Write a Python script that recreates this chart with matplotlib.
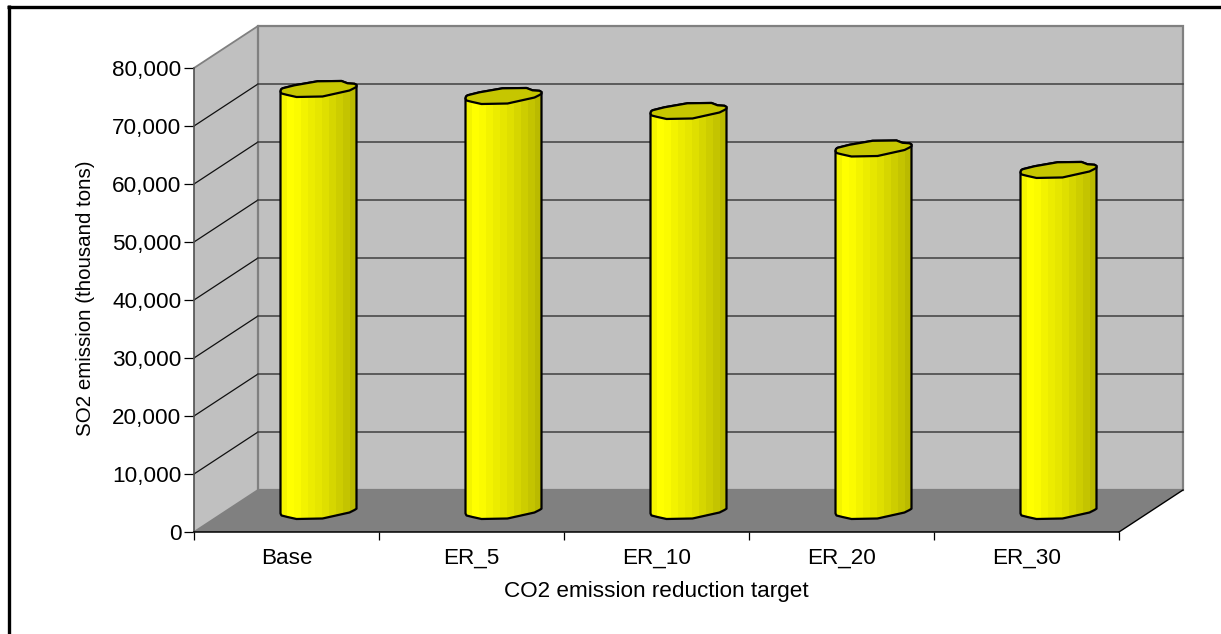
import matplotlib
matplotlib.use("Agg")
import matplotlib.pyplot as plt
import numpy as np
from matplotlib.lines import Line2D
from matplotlib.patches import Polygon
from matplotlib.ticker import FuncFormatter

plt.rcParams['font.family'] = ['Liberation Sans', 'DejaVu Sans']

categories = ["Base", "ER_5", "ER_10", "ER_20", "ER_30"]
so2_emission = [72760, 71550, 68970, 62500, 58800]
y_ticks = [0, 10000, 20000, 30000, 40000, 50000, 60000, 70000, 80000]
strip_colors = ["#f4f400", "#ffff00", "#fbfb00", "#f3f300", "#ecec00", "#e6e600",
                "#dfdf00", "#d6d600", "#cdcd00", "#c4c400", "#baba00"]

WIDTH, HEIGHT = 1221, 634
LEFT, RIGHT, BOTTOM, TOP = 194, 1119, 532, 68
PX_X = 5 / (RIGHT - LEFT)
PX_Y = 80000 / (BOTTOM - TOP)
DEPTH_X = 64 * PX_X
DEPTH_Y = 42 * PX_Y
GREY_WALL = "#c0c0c0"
GREY_FLOOR = "#808080"

# outline of a cylinder end, pixels from its centre (y up), clockwise from the left
RING_X = [-38, -37.5, -36, -24, -1, 23, 29, 36, 38, 38, 36, 31, 4, -22, -31, -37]
RING_Y = [-2.5, -0.5, 0.7, 3.7, 7.7, 8, 5.7, 5.2, 4, 2.3, 1, -1.5, -7.5, -8, -6, -4.5]
N_UPPER = 9


def ring(cx, cy):
    x = cx + np.array(RING_X) * PX_X
    y = cy + np.array(RING_Y) * PX_Y
    return np.column_stack([x, y])


def cylinder(ax, cx, value):
    y0 = DEPTH_Y / 2
    bottom = ring(cx, y0)
    top = ring(cx, y0 + value)
    points = np.vstack([top[:N_UPPER], bottom[N_UPPER:], bottom[:1]])
    shape = Polygon(points, closed=True, transform=ax.transData)
    half = 38 * PX_X
    edges = np.linspace(cx - half, cx + half, len(strip_colors) + 1)
    bars = ax.bar(edges[:-1], [value + 3 * DEPTH_Y] * len(strip_colors),
                  width=np.diff(edges) * 1.02, align="edge", color=strip_colors,
                  linewidth=0, zorder=5)
    for bar in bars:
        bar.set_clip_path(shape)
    ax.add_patch(Polygon(points, closed=True, facecolor="none", edgecolor="black",
                         linewidth=1.6, zorder=6, clip_on=False, joinstyle="round"))
    ax.add_patch(Polygon(top, closed=True, facecolor="#c6c600", edgecolor="black",
                         linewidth=1.6, zorder=7, clip_on=False, joinstyle="round"))


def main():
    fig = plt.figure(figsize=(WIDTH / 100, HEIGHT / 100), dpi=100, facecolor="white")
    ax = fig.add_axes([LEFT / WIDTH, 1 - BOTTOM / HEIGHT,
                       (RIGHT - LEFT) / WIDTH, (BOTTOM - TOP) / HEIGHT])
    ax.set_xlim(0, 5)
    ax.set_ylim(0, 80000)
    ax.patch.set_visible(False)
    for spine in ax.spines.values():
        spine.set_visible(False)

    # walls and floor
    ax.add_patch(Polygon([(0, 0), (DEPTH_X, DEPTH_Y), (DEPTH_X, 80000 + DEPTH_Y), (0, 80000)],
                         closed=True, facecolor=GREY_WALL, edgecolor="none", zorder=1, clip_on=False))
    ax.add_patch(Polygon([(DEPTH_X, DEPTH_Y), (5 + DEPTH_X, DEPTH_Y),
                          (5 + DEPTH_X, 80000 + DEPTH_Y), (DEPTH_X, 80000 + DEPTH_Y)],
                         closed=True, facecolor=GREY_WALL, edgecolor=GREY_FLOOR, linewidth=1.6,
                         zorder=1, clip_on=False))
    ax.add_patch(Polygon([(0, 0), (5, 0), (5 + DEPTH_X, DEPTH_Y), (DEPTH_X, DEPTH_Y)],
                         closed=True, facecolor=GREY_FLOOR, edgecolor="none", zorder=2, clip_on=False))

    # grid on both walls
    for tick in y_ticks[1:-1]:
        ax.plot([0, DEPTH_X], [tick, tick + DEPTH_Y], color="#101010", linewidth=0.9,
                zorder=3, clip_on=False)
        ax.plot([DEPTH_X, 5 + DEPTH_X], [tick + DEPTH_Y, tick + DEPTH_Y], color="#404040",
                linewidth=1.1, zorder=3, clip_on=False)
    ax.plot([0, DEPTH_X], [80000, 80000 + DEPTH_Y], color=GREY_FLOOR, linewidth=1.3,
            zorder=3, clip_on=False)
    ax.plot([0, DEPTH_X], [0, DEPTH_Y], color=GREY_FLOOR, linewidth=1.3, zorder=3, clip_on=False)
    ax.plot([5, 5 + DEPTH_X], [0, DEPTH_Y], color="black", linewidth=1.0, zorder=3, clip_on=False)
    ax.plot([0, 0], [0, 80000], color="#505050", linewidth=1.2, zorder=4, clip_on=False)
    ax.plot([0, 5], [0, 0], color="black", linewidth=1.1, zorder=4, clip_on=False)

    for i, value in enumerate(so2_emission):
        cylinder(ax, i + 0.5 + DEPTH_X / 2, value)

    ax.set_xlim(0, 5)
    ax.set_ylim(0, 80000)
    ax.set_yticks(y_ticks)
    ax.yaxis.set_major_formatter(FuncFormatter(lambda v, _: f"{int(v):,}"))
    ax.set_xticks(range(6))
    ax.set_xticklabels([])
    ax.set_xticks(np.arange(5) + 0.5, categories, minor=True)
    ax.tick_params(axis="y", length=7, width=0.9, labelsize=16.2, pad=2)
    ax.tick_params(axis="x", which="major", length=6, width=0.9)
    ax.tick_params(axis="x", which="minor", length=0, labelsize=16.2, pad=11.5)
    ax.set_xlabel("CO2 emission reduction target", fontsize=16.2, labelpad=9)
    ax.set_ylabel("SO2 emission (thousand tons)", fontsize=14.8, labelpad=12.5, y=0.503)

    # outer chart frame
    for xs, ys in [([8.5, 8.5], [4.8, 634]), ([6.85, 1221], [6.5, 6.5])]:
        fig.add_artist(Line2D(np.array(xs) / WIDTH, 1 - np.array(ys) / HEIGHT,
                              color="black", linewidth=2.4, solid_capstyle="butt"))

    fig.savefig("out.png", dpi=100)


if __name__ == '__main__':
    main()
